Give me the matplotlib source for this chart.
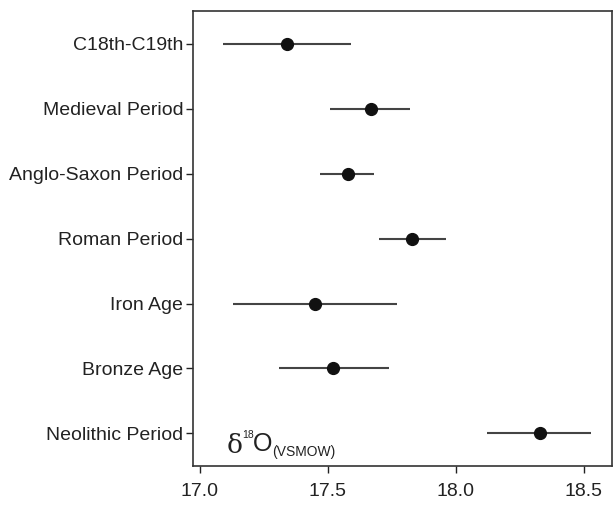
import matplotlib
matplotlib.use("Agg")
import matplotlib.pyplot as plt

plt.rcParams["font.family"] = ["Liberation Sans", "DejaVu Sans"]

# periods listed bottom -> top
periods = ["Neolithic Period", "Bronze Age", "Iron Age", "Roman Period",
           "Anglo-Saxon Period", "Medieval Period", "C18th-C19th"]
means = [18.33, 17.52, 17.45, 17.83, 17.58, 17.67, 17.34]
lows = [18.12, 17.31, 17.13, 17.70, 17.47, 17.51, 17.09]
highs = [18.53, 17.74, 17.77, 17.96, 17.68, 17.82, 17.59]
xticks = [17.0, 17.5, 18.0, 18.5]

W, H = 614, 507
fig = plt.figure(figsize=(W / 100, H / 100), dpi=100)
ax = fig.add_axes([0.3143, 0.081, 0.6824, 0.897])

ys = list(range(len(periods)))
err = [[m - lo for m, lo in zip(means, lows)], [hi - m for m, hi in zip(means, highs)]]
ax.errorbar(means, ys, xerr=err, fmt="o", color="#111111", ecolor="#444444",
            elinewidth=1.5, capsize=0, ms=8.5)

ax.set_yticks(ys)
ax.set_yticklabels(periods)
ax.set_xticks(xticks)
ax.set_xticklabels([f"{v:.1f}" for v in xticks])
ax.set_xlim(16.973, 18.61)
ax.set_ylim(-0.5, 6.5)
ax.tick_params(axis="both", labelsize=14, colors="#222222", length=5, width=1)
ax.tick_params(axis="y", pad=2)
ax.tick_params(axis="x", pad=7)
for s in ax.spines.values():
    s.set_color("#333333")
    s.set_linewidth(1.2)

# delta-18-O (VSMOW) label, pieces placed in pixel coords
def ftext(px, py, s, **kw):
    fig.text(px / W, 1 - py / H, s, color="#222222", ha="left", va="baseline", **kw)

ftext(227, 453, "\u03b4", fontsize=19, family="DejaVu Serif")
ftext(242, 438, "18", fontsize=7.5)
ftext(253, 451, "O", fontsize=18)
ftext(272, 456, "(VSMOW)", fontsize=10)

fig.savefig("out.png", dpi=100)
